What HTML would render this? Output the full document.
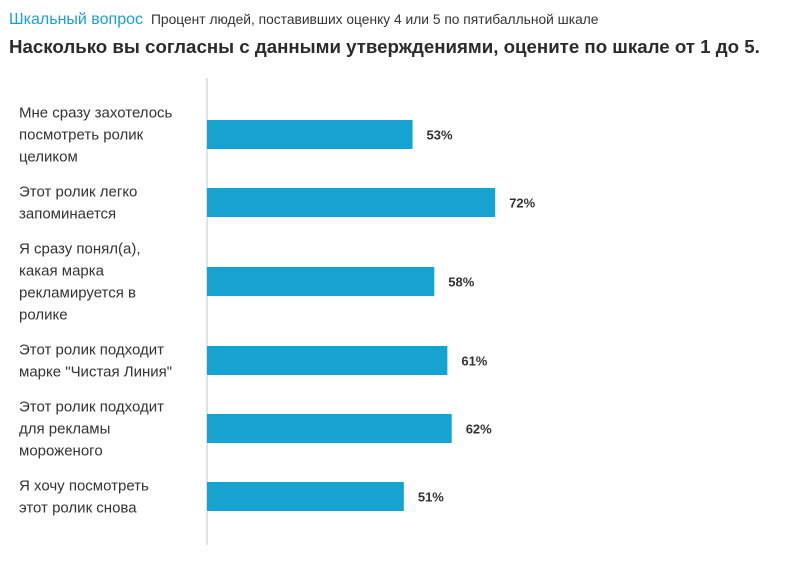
<!DOCTYPE html>
<html><head><meta charset="utf-8"><style>
body{margin:0;background:#fff;width:790px;height:575px;overflow:hidden;font-family:"Liberation Sans",sans-serif;color:#333}
.hdr{position:absolute;left:9px;top:11px;font-size:13.8px;white-space:nowrap}
.hdr .k{color:#1a9fd0;font-size:16px;margin-right:8px}
h1{position:absolute;left:9px;top:36px;margin:0;font-size:18.7px;font-weight:bold;color:#2b2b2b;white-space:nowrap}
</style></head><body>
<div class="hdr"><span class="k">Шкальный вопрос</span>Процент людей, поставивших оценку 4 или 5 по пятибалльной шкале</div>
<h1>Насколько вы согласны с данными утверждениями, оцените по шкале от 1 до 5.</h1>
<svg id="c" width="790" height="575" style="position:absolute;left:0;top:0"></svg>
<script>
const categories=[["Мне сразу захотелось","посмотреть ролик","целиком"],["Этот ролик легко","запоминается"],["Я сразу понял(а),","какая марка","рекламируется в","ролике"],["Этот ролик подходит","марке \"Чистая Линия\""],["Этот ролик подходит","для рекламы","мороженого"],["Я хочу посмотреть","этот ролик снова"]];
const values=[53,72,58,61,62,51];
const valueLabels=["53%","72%","58%","61%","62%","51%"];
const NS="http://www.w3.org/2000/svg",svg=document.getElementById('c');
function xScale(v){return 182+4.35*v;}
const x0=207,lh=22,gap=13,bh=29;
function mk(t,a){const e=document.createElementNS(NS,t);for(const k in a)e.setAttribute(k,a[k]);svg.appendChild(e);return e;}
const ax=mk('line',{x1:x0,x2:x0,y1:78,y2:545,stroke:'#e2e2e2','stroke-width':2});


let yTop=101.5;
categories.forEach((lines,i)=>{
  const h=lines.length*lh, cy=yTop+h/2;
  const t=mk('text',{x:19,y:0,'font-size':15,fill:'#333','font-family':'"Liberation Sans",sans-serif'});
  
  
  lines.forEach((s,j)=>{const ts=document.createElementNS(NS,'tspan');ts.setAttribute('x',19);ts.setAttribute('y',yTop+j*lh+16);ts.textContent=s;t.appendChild(ts);});
  const r=mk('rect',{x:x0,y:cy-bh/2,width:xScale(values[i])-x0,height:bh,fill:'#16a3cf'});
  
  
  const v=mk('text',{x:xScale(values[i])+14,y:cy+5,'font-size':13,'font-weight':'bold',fill:'#333','font-family':'"Liberation Sans",sans-serif'});
  
  
  v.textContent=valueLabels[i];
  yTop+=h+gap;
});
</script>
</body></html>
